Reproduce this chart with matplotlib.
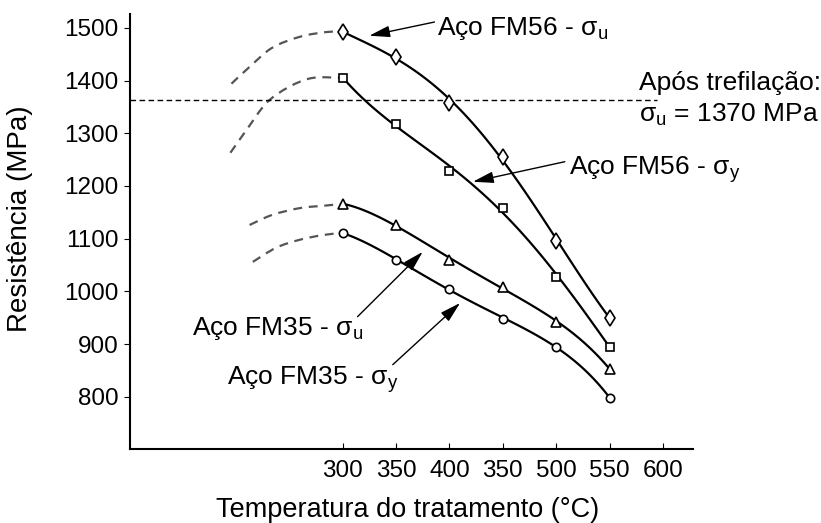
import numpy as np
import matplotlib
matplotlib.use("Agg")
import matplotlib.pyplot as plt
from matplotlib.path import Path
from matplotlib.patches import PathPatch

plt.rcParams['font.family'] = ['Liberation Sans', 'DejaVu Sans']
plt.rcParams['mathtext.fontset'] = 'custom'
plt.rcParams['mathtext.rm'] = 'Liberation Sans'
plt.rcParams['mathtext.it'] = 'Liberation Sans'

# measured points (temperature in °C, strength in MPa)
temps = [300, 350, 400, 450, 500, 550]
fm56_u = [1492, 1445, 1358, 1255, 1096, 950]
fm56_y = [1405, 1318, 1229, 1158, 1028, 895]
fm35_u = [1166, 1126, 1060, 1009, 942, 853]
fm35_y = [1111, 1060, 1005, 948, 895, 798]

# dashed extrapolations to the left
ext56_u_t = [196, 213, 234, 260, 285, 300]
ext56_u_v = [1394, 1426, 1462, 1483, 1492, 1492]
ext56_y_t = [195, 210, 229, 250, 272, 300]
ext56_y_v = [1263, 1306, 1358, 1388, 1405, 1405]
ext35_u_t = [213, 234, 260, 285, 300]
ext35_u_v = [1126, 1145, 1158, 1163, 1166]
ext35_y_t = [216, 238, 260, 282, 300]
ext35_y_v = [1056, 1083, 1098, 1107, 1111]

after_drawing = 1363

xtick_pos = [300, 350, 400, 450, 500, 550, 600]
xtick_lab = ['300', '350', '400', '350', '500', '550', '600']
ytick_pos = [800, 900, 1000, 1100, 1200, 1300, 1400, 1500]


def smooth(ax, xs, ys, **kw):
    # Catmull-Rom through the points, drawn as cubic Bezier segments
    p = np.column_stack([xs, ys]).astype(float)
    pts = [p[0]]
    codes = [Path.MOVETO]
    for i in range(len(p) - 1):
        p0 = p[i - 1] if i > 0 else p[i]
        p3 = p[i + 2] if i + 2 < len(p) else p[i + 1]
        c1 = p[i] + (p[i + 1] - p0) / 6
        c2 = p[i + 1] - (p3 - p[i]) / 6
        pts += [c1, c2, p[i + 1]]
        codes += [Path.CURVE4] * 3
    ax.add_patch(PathPatch(Path(pts, codes), fill=False, **kw))


fig = plt.figure(figsize=(8.21, 5.23), dpi=100)
ax = fig.add_axes([0.1583, 0.1415, 0.6858, 0.8315])

# dashed extensions
for t, v in [(ext56_u_t, ext56_u_v), (ext56_y_t, ext56_y_v),
             (ext35_u_t, ext35_u_v), (ext35_y_t, ext35_y_v)]:
    smooth(ax, t, v, edgecolor='#555555', lw=1.6, ls=(0, (4, 3)))

# solid curves: smooth trend through the measured points
tt = np.linspace(temps[0], temps[-1], 100)
for v in [fm56_u, fm56_y, fm35_u, fm35_y]:
    c = np.polyfit(temps, v, 4)
    ax.plot(tt, np.polyval(c, tt), color='black', lw=1.6)

mk = dict(ls='none', markerfacecolor='white', markeredgecolor='black',
          markeredgewidth=1.2, zorder=3)
ax.plot(temps, fm56_u, marker='d', markersize=8, **mk)
ax.plot(temps, fm56_y, marker='s', markersize=6, **mk)
ax.plot(temps, fm35_u, marker='^', markersize=7, **mk)
ax.plot(temps, fm35_y, marker='o', markersize=6, **mk)

# after wire drawing line
ax.plot([101, 594], [after_drawing, after_drawing], color='black', lw=1, ls=(0, (4, 2.5)))

ax.set_xlim(101, 628)
ax.set_ylim(701, 1526)
ax.set_xticks(xtick_pos)
ax.set_xticklabels(xtick_lab)
ax.set_yticks(ytick_pos)
ax.tick_params(axis='x', direction='in', length=4, pad=8, labelsize=17.5)
ax.tick_params(axis='y', direction='out', length=4, pad=4, labelsize=17.5)
for s in ['top', 'right']:
    ax.spines[s].set_visible(False)
for s in ['left', 'bottom']:
    ax.spines[s].set_linewidth(1.5)

ax.set_xlabel('Temperatura do tratamento (°C)', fontsize=19.5)
ax.xaxis.set_label_coords(0.493, -0.11)
ax.set_ylabel('Resistência (MPa)', fontsize=20)
ax.yaxis.set_label_coords(-0.172, 0.53)

arr = dict(arrowstyle='-|>,head_length=0.9,head_width=0.25', color='black',
           lw=1, mutation_scale=14, shrinkA=0, shrinkB=0)
ax.annotate('', xy=(325, 1485), xytext=(386, 1511), arrowprops=arr)
ax.annotate('', xy=(422, 1208), xytext=(508, 1246), arrowprops=arr)
ax.annotate('', xy=(375, 1075), xytext=(314, 952), arrowprops=arr)
ax.annotate('', xy=(410, 978), xytext=(347, 861), arrowprops=arr)

fs = 19
ax.text(388, 1487, 'Aço FM56 - σ$_\\mathregular{u}$', fontsize=fs, va='baseline', ha='left')
ax.text(512, 1221, 'Aço FM56 - σ$_\\mathregular{y}$', fontsize=fs, va='baseline', ha='left')
ax.text(159, 917, 'Aço FM35 - σ$_\\mathregular{u}$', fontsize=fs, va='baseline', ha='left')
ax.text(192, 823, 'Aço FM35 - σ$_\\mathregular{y}$', fontsize=fs, va='baseline', ha='left')
ax.text(577, 1382, 'Após trefilação:', fontsize=fs, va='baseline', ha='left', clip_on=False)
ax.text(577, 1322, 'σ$_\\mathregular{u}$ = 1370 MPa', fontsize=fs, va='baseline', ha='left', clip_on=False)

fig.savefig('out.png', dpi=100)
